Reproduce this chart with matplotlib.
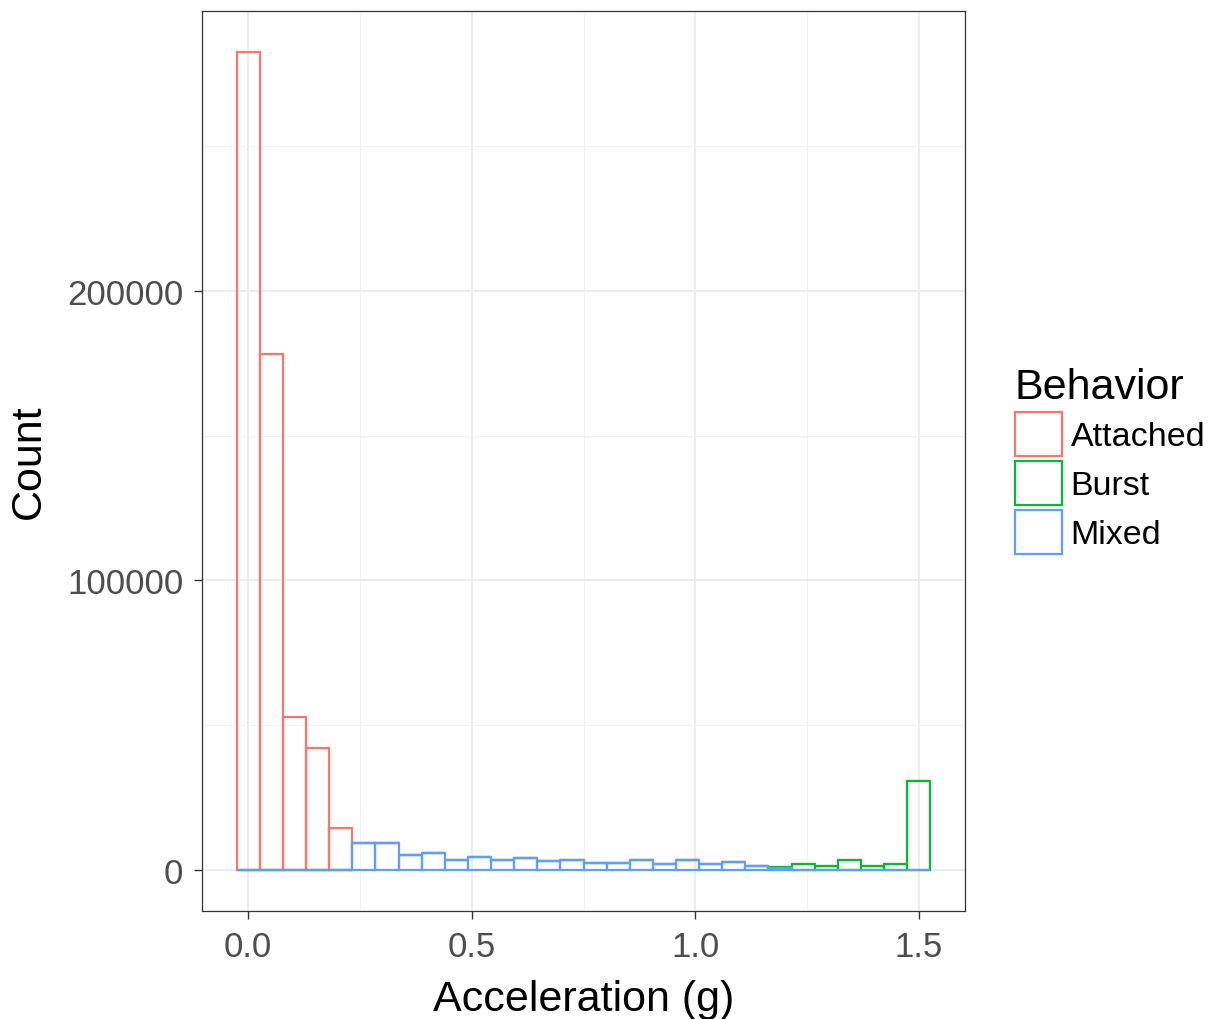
import numpy as np
import matplotlib
matplotlib.use("Agg")
import matplotlib.pyplot as plt
from matplotlib.patches import Patch

plt.rcParams["font.family"] = ["Liberation Sans", "DejaVu Sans"]

# histogram counts per bin (30 bins over 0 .. 1.5 g)
n_bins = 30
attached = [282500, 178200, 52800, 42000, 14600] + [0] * 25
mixed = [0] * 5 + [9400, 9400, 5060, 5860, 3550, 4480, 3340, 4030, 3100, 3550,
                   2500, 2500, 3550, 2170, 3330, 2170, 2750, 1260, 700] + [0] * 6
burst = [0] * 23 + [300, 2000, 1450, 3500, 1450, 2000, 30700]

groups = ["Attached", "Burst", "Mixed"]
colors = {"Attached": "#F8766D", "Burst": "#00BA38", "Mixed": "#619CFF"}

x_min, x_max = 0.0, 1.5
binw = (x_max - x_min) / (n_bins - 1)
centers = x_min + np.arange(n_bins) * binw

mixed = np.array(mixed, dtype=float)
burst = np.array(burst, dtype=float)
attached = np.array(attached, dtype=float)

fig = plt.figure(figsize=(12.1, 10.2), dpi=100)
ax = fig.add_axes([202 / 1210, 1 - 912 / 1020, (965 - 202) / 1210, (912 - 12) / 1020])

lw = 1.6
# stacking as in ggplot: Mixed at bottom, then Burst, then Attached
ax.bar(centers, attached, width=binw, bottom=mixed + burst, fill=False,
       edgecolor=colors["Attached"], linewidth=lw, zorder=3)
ax.bar(centers, burst, width=binw, bottom=mixed, fill=False,
       edgecolor=colors["Burst"], linewidth=lw, zorder=3)
ax.bar(centers, mixed, width=binw, fill=False,
       edgecolor=colors["Mixed"], linewidth=lw, zorder=3)

# ggplot-like expansion
lo, hi = x_min - binw / 2, x_max + binw / 2
ax.set_xlim(lo - 0.05 * (hi - lo), hi + 0.05 * (hi - lo))
top = (attached + burst + mixed).max()
ax.set_ylim(-0.05 * top, 1.05 * top)

ax.set_xticks([0.0, 0.5, 1.0, 1.5])
ax.set_xticklabels(["0.0", "0.5", "1.0", "1.5"])
ax.set_xticks([0.25, 0.75, 1.25], minor=True)
ax.set_yticks([0, 100000, 200000])
ax.set_yticklabels(["0", "100000", "200000"])
ax.set_yticks([50000, 150000, 250000], minor=True)

ax.grid(True, which="major", color="#EBEBEB", linewidth=1.3, zorder=0)
ax.grid(True, which="minor", color="#F2F2F2", linewidth=0.8, zorder=0)
ax.set_axisbelow(True)

for s in ax.spines.values():
    s.set_color("#333333")
    s.set_linewidth(0.9)

ax.tick_params(which="major", length=6, width=1, color="#333333",
               labelsize=25, labelcolor="#4D4D4D")
ax.tick_params(axis="y", pad=7.5)
ax.tick_params(axis="x", pad=8)
ax.tick_params(which="minor", length=0)

ax.set_xlabel("Acceleration (g)", fontsize=31, labelpad=11)
ax.set_ylabel("Count", fontsize=31, labelpad=13)

handles = [Patch(facecolor="white", edgecolor=colors[g], linewidth=lw, label=g) for g in groups]
leg = fig.legend(handles=handles, title="Behavior", loc="upper left",
                 bbox_to_anchor=(1015 / 1210, 1 - 368 / 1020), frameon=False,
                 fontsize=24.5, title_fontsize=31, handlelength=1.38, handleheight=1.62,
                 labelspacing=0.14, handletextpad=0.25, borderpad=0, borderaxespad=0)
leg._legend_box.align = "left"

fig.savefig("out.png", dpi=100)
